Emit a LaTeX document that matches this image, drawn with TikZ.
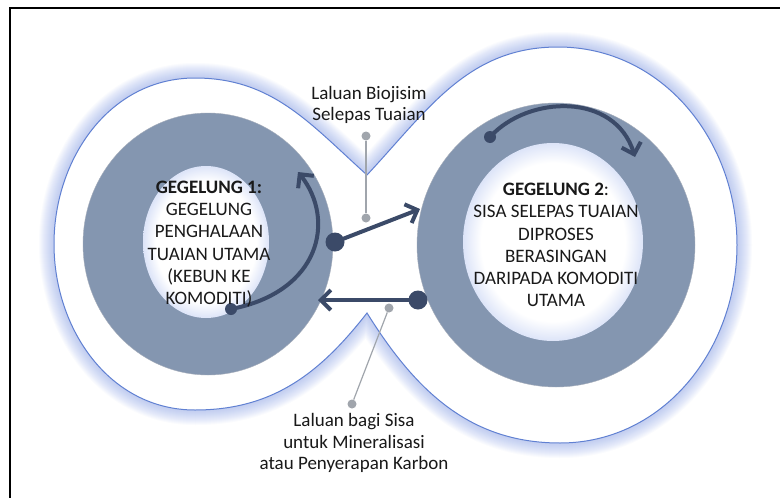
\documentclass[tikz,border=0pt]{standalone}
\usepackage{fontspec}
\setmainfont{Carlito}
\usetikzlibrary{arrows.meta, positioning, calc}
\definecolor{cRing}{RGB}{132,150,176}
\definecolor{cNavy}{RGB}{59,74,104}
\definecolor{cEdge}{RGB}{96,128,210}
\definecolor{cGlow}{RGB}{140,165,232}
\definecolor{cCall}{RGB}{160,165,172}
\definecolor{cText}{RGB}{25,25,25}
\pgfdeclareradialshading{innerglow}{\pgfpoint{0bp}{0bp}}{color(0bp)=(white); color(20bp)=(white); color(25bp)=(cGlow!30); color(50bp)=(cGlow!30)}
\tikzset{
	eightshape/.style={insert path={(367,-175) to[out=138,in=0] (195,-78) to[out=180,in=90] (54,-244) to[out=-90,in=180] (195,-410) to[out=0,in=-128] (367,-313)
		to[out=-58,in=180] (560,-443) to[out=0,in=-90] (737,-245) to[out=90,in=0] (558,-47) to[out=180,in=47] cycle}},
	ringlabel/.style={align=center, text=cText, font=\fontsize{19}{22.3}\selectfont, inner sep=0pt},
	calllabel/.style={align=center, text=cText, font=\fontsize{19}{21.5}\selectfont, inner sep=0pt},
	bigdot/.style={circle, fill=cNavy, minimum size=19pt, inner sep=0pt},
	smalldot/.style={circle, fill=cNavy, minimum size=12pt, inner sep=0pt},
	calldot/.style={circle, fill=cCall, minimum size=9pt, inner sep=0pt},
	flow/.style={-{Straight Barb[length=10pt, width=20pt]}, line width=4pt, draw=cNavy},
	callline/.style={draw=cCall, line width=1.2pt},
}
\begin{document}
\begin{tikzpicture}[x=1pt, y=1pt]
	\fill[white] (0,0) rectangle (780,-498);
	\useasboundingbox (0,0) rectangle (780,-498);
	% frame, cut off at right and bottom
	\draw[line width=2.5pt] (10,-498) -- (10,-8) -- (780,-8);
	% soft glow round the figure eight
	\foreach \w in {2,4,...,30} {
		\draw[cGlow, line width=\w pt, opacity=0.045, line join=round] [eightshape];
	}
	\filldraw[fill=white, draw=cEdge, line width=1pt] [eightshape];
	% rings
	\filldraw[fill=cRing, draw=cNavy!45] (208,-244) ellipse [x radius=125, y radius=131];
	\shade[shading=innerglow] (206,-242) ellipse [x radius=63, y radius=76];
	\filldraw[fill=cRing, draw=cNavy!45] (556,-245) ellipse [x radius=139, y radius=142];
	\shade[shading=innerglow] (553,-242) ellipse [x radius=90, y radius=99];
	% loop arrows
	\node[smalldot] (d1) at (231,-309) {};
	\coordinate (t1) at (298,-172);
	\draw[flow] (d1.center) .. controls (320,-292) and (336,-220) .. (t1);
	\node[smalldot] (d2) at (490,-137) {};
	\coordinate (t2) at (635,-157);
	\draw[flow] (d2.center) .. controls (528,-95) and (615,-92) .. (t2);
	% links between the loops
	\node[bigdot] (d3) at (335,-242) {};
	\coordinate (t3) at (420,-209);
	\draw[flow] (d3.center) -- (t3);
	\node[bigdot] (d4) at (418,-300) {};
	\coordinate (t4) at (318,-300);
	\draw[flow] (d4.center) -- (t4);
	% callouts
	\node[calldot] (c1) at (366,-136) {};
	\node[calldot] (c2) at (366,-218) {};
	\draw[callline] (c1) -- (c2);
	\node[calldot] (c3) at (389,-308) {};
	\node[calldot] (c4) at (352,-404) {};
	\draw[callline] (c3) -- (c4);
	\node[calllabel] (biolbl) at (369,-105) {Laluan Biojisim\\Selepas Tuaian};
	\node[calllabel] (sisalbl) at (354,-443) {Laluan bagi Sisa\\untuk Mineralisasi\\atau Penyerapan Karbon};
	% loop texts
	\node[ringlabel] (loop1) at (209,-244) {\textbf{GEGELUNG 1:}\\GEGELUNG\\PENGHALAAN\\TUAIAN UTAMA\\(KEBUN KE\\KOMODITI)};
	\node[ringlabel] (loop2) at (556,-245) {\textbf{GEGELUNG 2}:\\SISA SELEPAS TUAIAN\\DIPROSES\\BERASINGAN\\DARIPADA KOMODITI\\UTAMA};
\end{tikzpicture}
\end{document}
